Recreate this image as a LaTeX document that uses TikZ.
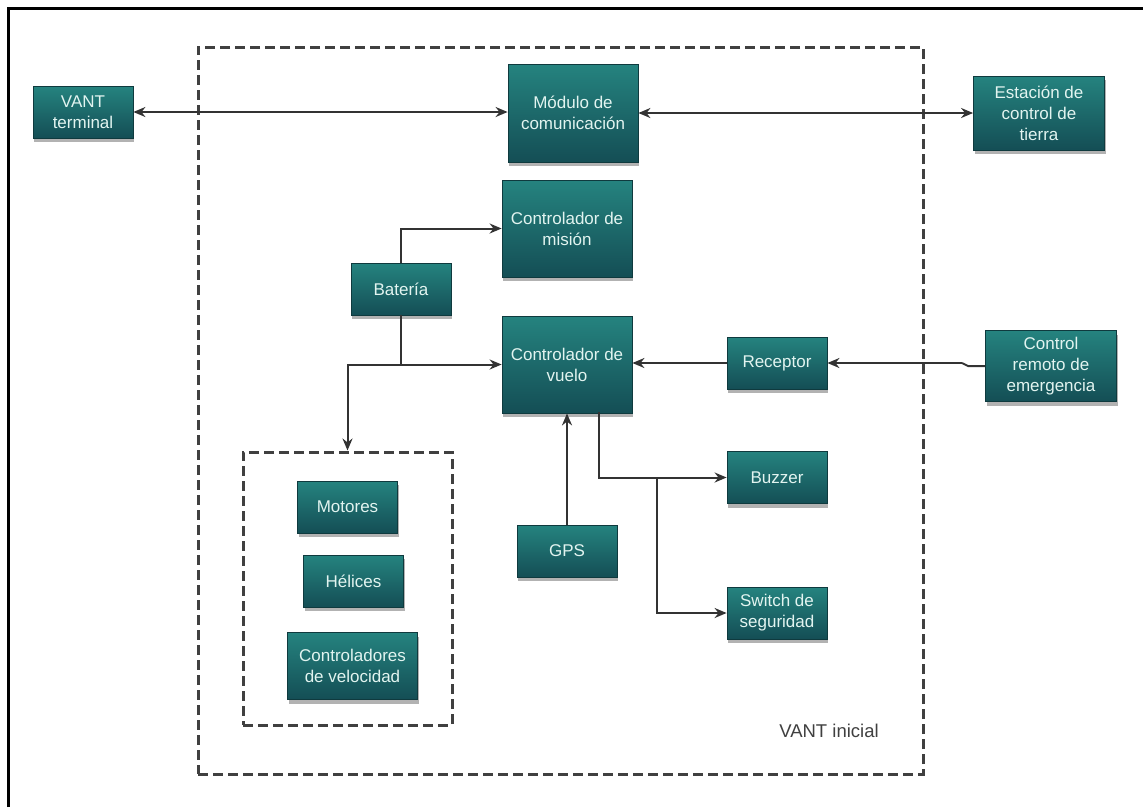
\documentclass[tikz,border=0pt]{standalone}
\usepackage{fontspec}
\setmainfont{Liberation Sans}
\usetikzlibrary{shadows,arrows.meta}
\definecolor{tealtop}{HTML}{25837F}
\definecolor{tealbot}{HTML}{144E55}
\definecolor{tealedge}{HTML}{0F3A3E}
\definecolor{boxtext}{HTML}{E2F4F0}
\definecolor{linegray}{HTML}{333333}
\definecolor{dashgray}{HTML}{404040}
\begin{document}
\begin{tikzpicture}[x=1pt,y=-1pt,
  block/.style={draw=tealedge, line width=0.8pt, top color=tealtop, bottom color=tealbot,
    text=boxtext, align=center, inner sep=0pt,
    font=\fontsize{17}{21}\selectfont,
    drop shadow={shadow xshift=1pt, shadow yshift=-4pt, fill=black, opacity=0.3}},
  arr/.style={draw=linegray, line width=2pt, -{Stealth[length=12pt,width=10pt]}},
  biarr/.style={draw=linegray, line width=2pt, {Stealth[length=12pt,width=10pt]}-{Stealth[length=12pt,width=10pt]}},
  plain/.style={draw=linegray, line width=2pt},
  group/.style={draw=dashgray, line width=3pt, dash pattern=on 10pt off 5pt, inner sep=0pt}
]
\useasboundingbox (0,0) rectangle (1143,807);
\fill[white] (0,0) rectangle (1143,807);

% page frame (top and left edges)
\draw[line width=3pt, black] (8,807) -- (8,8) -- (1143,8);

% dashed enclosures
\node[group, minimum width=725pt, minimum height=727pt] (vant) at (560.5,410.5) {};
\node[group, minimum width=209pt, minimum height=273pt] (grupo) at (347.5,588.5) {};
\node[text=dashgray, font=\fontsize{18.5}{20}\selectfont] (vantlbl) at (829,731) {VANT inicial};

% blocks
\node[block, minimum width=100pt, minimum height=52pt] (terminal) at (83,112) {VANT\\terminal};
\node[block, minimum width=130pt, minimum height=98pt] (modulo) at (573,113) {Módulo de\\comunicación};
\node[block, minimum width=131pt, minimum height=74pt] (estacion) at (1039,113) {Estación de\\control de\\tierra};
\node[block, minimum width=130pt, minimum height=97pt] (mision) at (567,228.5) {Controlador de\\misión};
\node[block, minimum width=100pt, minimum height=52pt] (bateria) at (401,289) {Batería};
\node[block, minimum width=130pt, minimum height=97pt] (vuelo) at (567,364.5) {Controlador de\\vuelo};
\node[block, minimum width=100pt, minimum height=52pt] (receptor) at (777,363) {Receptor};
\node[block, minimum width=131pt, minimum height=71pt] (remoto) at (1051,366) {Control\\remoto de\\emergencia};
\node[block, minimum width=100pt, minimum height=52pt] (motores) at (347.5,507) {Motores};
\node[block, minimum width=100pt, minimum height=52pt] (helices) at (353.5,581) {Hélices};
\node[block, minimum width=130pt, minimum height=67pt] (velocidad) at (352.5,666) {Controladores\\de velocidad};
\node[block, minimum width=100pt, minimum height=52pt] (gps) at (567,551) {GPS};
\node[block, minimum width=100pt, minimum height=52pt] (buzzer) at (777,477.5) {Buzzer};
\node[block, minimum width=100pt, minimum height=52pt] (switch) at (777,613) {Switch de\\seguridad};

% connectors
\draw[biarr] (terminal.east) -- (modulo.west |- terminal.east);
\draw[biarr] (modulo.east) -- (estacion.west |- modulo.east);
\draw[arr] (bateria.north) |- (mision.west);
\draw[arr] (bateria.south) |- (vuelo.west);
\coordinate (batsplit) at (bateria.south |- vuelo.west);
\draw[arr] (batsplit) -| (grupo.north);
\draw[arr] (receptor.west) -- (vuelo.east |- receptor.west);
\coordinate (jogA) at (968,366);
\coordinate (jogB) at (962,363);
\draw[plain, line join=round] (remoto.west) -- (jogA) -- (jogB);
\draw[arr] (jogB) -- (receptor.east);
\draw[arr] (gps.north) -- (gps.north |- vuelo.south);
\coordinate (vout) at (599,412);
\draw[arr] (vout) |- (buzzer.west);
\coordinate (brk) at (657,477.5);
\draw[arr] (brk) |- (switch.west);
\end{tikzpicture}
\end{document}
